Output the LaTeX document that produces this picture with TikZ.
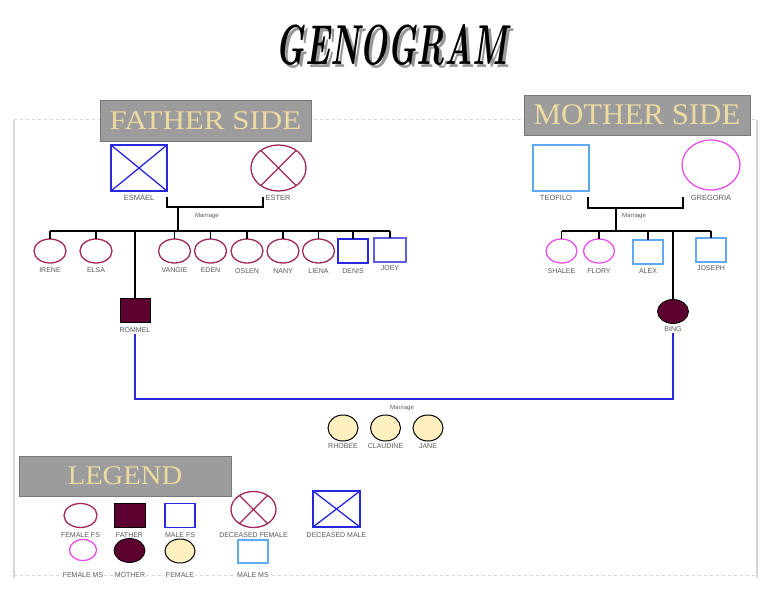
\documentclass[tikz,border=0pt]{standalone}
\usepackage{fontspec}
\usepackage{graphicx}
\newfontfamily\lblfont{Liberation Sans}
\newfontfamily\hdrfont{Liberation Serif}
\usetikzlibrary{shapes.geometric}
\definecolor{crim}{RGB}{160,40,90}
\definecolor{bluc}{RGB}{40,40,225}
\definecolor{lbluc}{RGB}{95,170,240}
\definecolor{magc}{RGB}{232,80,232}
\definecolor{maroon}{RGB}{92,0,48}
\definecolor{cream}{RGB}{255,240,192}
\definecolor{lblgray}{RGB}{90,90,90}
\definecolor{hdrgray}{RGB}{156,156,156}
\definecolor{hdrborder}{RGB}{120,120,120}
\definecolor{hdrtext}{RGB}{236,218,160}
\definecolor{framec}{RGB}{215,215,215}
\newcommand{\gtitle}{\resizebox{232pt}{40pt}{\bfseries\itshape GENOGRAM}}
\begin{document}
\begin{tikzpicture}[x=1pt,y=-1pt,
  conn/.style={black,line width=1.6pt},
  bline/.style={bluc,line width=1.4pt},
  pbase/.style={inner sep=0pt,outer sep=0pt,line width=1.3pt},
  ffs/.style={pbase,ellipse,draw=crim,minimum width=32pt,minimum height=24pt},
  fms/.style={pbase,ellipse,draw=magc,minimum width=31pt,minimum height=24pt},
  mfs/.style={pbase,rectangle,draw=bluc,minimum width=30pt,minimum height=24pt},
  mms/.style={pbase,rectangle,draw=lbluc,minimum width=30pt,minimum height=24pt},
  fath/.style={pbase,rectangle,draw=black,line width=0.8pt,fill=maroon,minimum width=30pt,minimum height=24pt},
  moth/.style={pbase,ellipse,draw=black,line width=0.8pt,fill=maroon,minimum width=31pt,minimum height=24pt},
  kid/.style={pbase,ellipse,draw=black,line width=1pt,fill=cream,minimum width=30pt,minimum height=26pt},
  lbl/.style={font=\lblfont\fontsize{7}{8}\selectfont,text=lblgray,inner sep=1pt},
  tlbl/.style={font=\lblfont\fontsize{7.5}{8}\selectfont,text=lblgray,inner sep=1pt},
  mlbl/.style={font=\lblfont\fontsize{6}{7}\selectfont,text=lblgray,inner sep=1pt},
  hdr/.style={fill=hdrgray,draw=hdrborder,line width=0.6pt,text=hdrtext,inner sep=0pt}
]
\useasboundingbox (0,0) rectangle (768,594);
\fill[white] (0,0) rectangle (768,594);

% page frame
\draw[framec,line width=1.2pt] (14,120) -- (14,578);
\draw[framec,line width=1.2pt] (757,120) -- (757,578);
\draw[framec,dashed,line width=0.8pt] (14,119) -- (757,119);
\draw[framec,dashed,line width=0.8pt] (14,575) -- (757,575);

% title (with shadow in the same text)
\node[inner sep=0pt] (title) at (392,46)
  {\makebox[0pt][l]{\hspace{3pt}\raisebox{-3pt}{\color{black!40}\gtitle}}\gtitle};

% headers
\node[hdr,minimum width=211pt,minimum height=41pt] (fhdr) at (205.5,120.5)
  {\scalebox{1.15}[1]{\hdrfont\fontsize{27}{27}\selectfont FATHER SIDE}};
\node[hdr,minimum width=226pt,minimum height=40pt] (mhdr) at (637,115)
  {\scalebox{1.03}[1]{\hdrfont\fontsize{30}{30}\selectfont MOTHER SIDE}};
\node[hdr,minimum width=212pt,minimum height=40pt] (lhdr) at (125,476)
  {\scalebox{1.06}[1]{\hdrfont\fontsize{27}{27}\selectfont LEGEND}};

% ---------------- father side ----------------
\node[mfs,minimum width=56pt,minimum height=46pt] (esmael) at (139,168) {};
\draw[bluc,line width=1.3pt] (esmael.north west) -- (esmael.south east) (esmael.north east) -- (esmael.south west);
\node[ffs,minimum width=55pt,minimum height=46pt] (ester) at (278.5,168) {};
\draw[crim,line width=1.3pt] (ester.45) -- (ester.225) (ester.135) -- (ester.315);
\node[tlbl] (esmaelL) at (139,198) {ESMAEL};
\node[tlbl] (esterL) at (278,198) {ESTER};
\coordinate (fbL) at (167,197);
\coordinate (fbR) at (263,197);
\draw[conn] (fbL) -- ++(0,10) -| (fbR);
\coordinate (fstem) at (178,207);
\coordinate (fline) at (178,231);
\draw[conn] (fstem) -- (fline);
\node[mlbl] (fmar) at (207,216) {Marriage};

\node[ffs] (irene) at (50,251) {};
\node[ffs] (elsa) at (96,251) {};
\node[ffs] (vangie) at (174.5,251) {};
\node[ffs] (eden) at (210.5,251) {};
\node[ffs] (oslen) at (247,251) {};
\node[ffs] (nany) at (283,251) {};
\node[ffs] (liena) at (318.5,251) {};
\node[mfs] (denis) at (353,251) {};
\node[mfs,draw=bluc!75,minimum width=32pt] (joey) at (390,250) {};
\node[fath] (rommel) at (135,310) {};

\draw[conn] (irene.north |- fline) -- (joey.north |- fline);
\foreach \n in {irene,elsa,vangie,eden,oslen,nany,liena,denis,joey,rommel}
  \draw[conn] (\n.north) -- (\n.north |- fline);

\node[lbl] (ireneL) at (50,270) {IRENE};
\node[lbl] (elsaL) at (96,270) {ELSA};
\node[lbl] (vangieL) at (174.5,270) {VANGIE};
\node[lbl] (edenL) at (210.5,270) {EDEN};
\node[lbl] (oslenL) at (247,271) {OSLEN};
\node[lbl] (nanyL) at (283,271) {NANY};
\node[lbl] (lienaL) at (318.5,271) {LIENA};
\node[lbl] (denisL) at (353,271) {DENIS};
\node[lbl] (joeyL) at (390,268) {JOEY};
\node[lbl] (rommelL) at (135,330) {ROMMEL};

% ---------------- mother side ----------------
\node[mms,minimum width=56pt,minimum height=46pt] (teofilo) at (561,168) {};
\node[fms,minimum width=58pt,minimum height=50pt] (gregoria) at (711,165) {};
\node[tlbl] (teofiloL) at (556,198) {TEOFILO};
\node[tlbl] (gregoriaL) at (711,198) {GREGORIA};
\coordinate (mbL) at (588,197);
\coordinate (mbR) at (683,197);
\draw[conn] (mbL) -- ++(0,11) -| (mbR);
\coordinate (mstem) at (616,208);
\coordinate (mline) at (616,231);
\draw[conn] (mstem) -- (mline);
\node[mlbl] (mmar) at (634,216) {Marriage};

\node[fms] (shalee) at (561.5,251) {};
\node[fms] (flory) at (599,251) {};
\node[mms] (alex) at (648,252) {};
\node[mms] (joseph) at (711,250) {};
\node[moth] (bing) at (673,311.5) {};

\draw[conn] (shalee.north |- mline) -- (joseph.north |- mline);
\foreach \n in {shalee,flory,alex,joseph,bing}
  \draw[conn] (\n.north) -- (\n.north |- mline);

\node[lbl] (shaleeL) at (561.5,271) {SHALEE};
\node[lbl] (floryL) at (599,271) {FLORY};
\node[lbl] (alexL) at (648,271) {ALEX};
\node[lbl] (josephL) at (711,268) {JOSEPH};
\node[lbl] (bingL) at (673,329) {BING};

% ---------------- marriage ----------------
\coordinate (mm) at (400,399);
\draw[bline] (rommelL.south) |- (mm) -| (bingL.south);
\node[mlbl] (cmar) at (402,407.5) {Marriage};
\node[kid] (rhobee) at (343,428) {};
\node[kid] (claudine) at (385.5,428) {};
\node[kid] (jane) at (428,428) {};
\node[lbl] (rhobeeL) at (343,446) {RHOBEE};
\node[lbl] (claudineL) at (385.5,446) {CLAUDINE};
\node[lbl] (janeL) at (428,446) {JANE};

% ---------------- legend ----------------
\node[ffs,minimum width=33pt] (lgff) at (80.5,515.5) {};
\node[fath,minimum width=31pt] (lgfa) at (129.5,515) {};
\node[mfs] (lgmf) at (180,515.5) {};
\node[ffs,minimum width=45pt,minimum height=36pt] (lgdf) at (253.5,509.5) {};
\draw[crim,line width=1.3pt] (lgdf.45) -- (lgdf.225) (lgdf.135) -- (lgdf.315);
\node[mfs,minimum width=47pt,minimum height=36pt] (lgdm) at (336.5,509) {};
\draw[bluc,line width=1.3pt] (lgdm.north west) -- (lgdm.south east) (lgdm.north east) -- (lgdm.south west);
\node[lbl] (lgffL) at (80.5,535) {FEMALE FS};
\node[lbl] (lgfaL) at (129.5,535) {FATHER};
\node[lbl] (lgmfL) at (180,535) {MALE FS};
\node[lbl] (lgdfL) at (253.5,535) {DECEASED FEMALE};
\node[lbl] (lgdmL) at (336.5,535) {DECEASED MALE};

\node[fms,minimum width=27pt,minimum height=21pt] (lgfm) at (83,550) {};
\node[moth] (lgmo) at (129.5,550.5) {};
\node[kid,minimum width=30pt,minimum height=24pt] (lgfe) at (180,551) {};
\node[mms,minimum width=30pt,minimum height=23pt] (lgmm) at (253,551.5) {};
\node[lbl,fill=white] (lgfmL) at (83,575) {FEMALE MS};
\node[lbl,fill=white] (lgmoL) at (130,575) {MOTHER};
\node[lbl,fill=white] (lgfeL) at (180,575) {FEMALE};
\node[lbl,fill=white] (lgmmL) at (253,575) {MALE MS};
\end{tikzpicture}
\end{document}
